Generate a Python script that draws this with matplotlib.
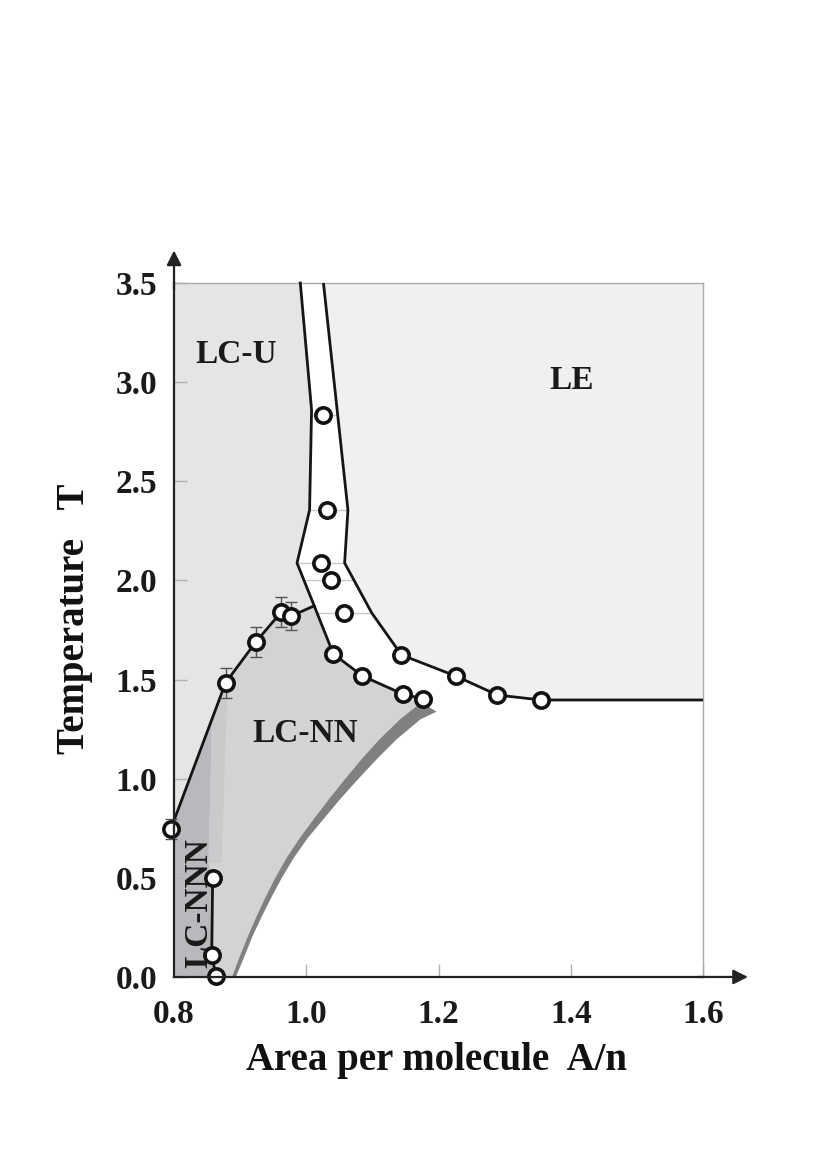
import numpy as np
import matplotlib
matplotlib.use('Agg')
import matplotlib.pyplot as plt
from matplotlib.patches import Polygon

# ---------------- data ----------------
x_ticks = [0.8, 1.0, 1.2, 1.4, 1.6]
x_tick_labels = ['0.8', '1.0', '1.2', '1.4', '1.6']
y_ticks = [0.0, 0.5, 1.0, 1.5, 2.0, 2.5, 3.0, 3.5]
y_tick_labels = ['0.0', '0.5', '1.0', '1.5', '2.0', '2.5', '3.0', '3.5']

# left boundary of the coexistence band (LC-U / LC-NN side)
band_left_A = [0.991, 1.008, 1.005, 0.986, 1.012, 1.041, 1.085, 1.146, 1.177]
band_left_T = [3.5, 2.86, 2.355, 2.088, 1.872, 1.629, 1.518, 1.427, 1.402]
# right boundary of the coexistence band (LE side)
band_right_A = [1.026, 1.063, 1.058, 1.099, 1.144, 1.226, 1.289, 1.355, 1.6]
band_right_T = [3.5, 2.355, 2.088, 1.836, 1.624, 1.518, 1.422, 1.397, 1.397]

# LC-U / LC-NN boundary
lcu_A = [0.795, 0.878, 0.924, 0.962, 0.977, 1.012]
lcu_T = [0.745, 1.484, 1.691, 1.840, 1.820, 1.872]
lcu_err = [0.05, 0.075, 0.075, 0.075, 0.07, 0.0]

# LC-NNN / LC-NN low temperature line
nnn_A = [0.8584, 0.857, 0.8634]
nnn_T = [0.498, 0.111, 0.005]

# data points inside the band
mid_A = [1.025, 1.032, 1.022, 1.038, 1.057]
mid_T = [2.834, 2.355, 2.088, 2.002, 1.836]
# data points on the band boundaries
bl_pts_A = [1.041, 1.085, 1.146, 1.177]
bl_pts_T = [1.629, 1.518, 1.427, 1.402]
br_pts_A = [1.144, 1.226, 1.289, 1.355]
br_pts_T = [1.624, 1.518, 1.422, 1.397]

# dark stripe (edge of LC-NN region)
stripe_left_T = [0.0, 0.1, 0.2, 0.3, 0.4, 0.5, 0.6, 0.7, 0.8, 0.9, 1.0, 1.1, 1.2, 1.3, 1.385]
stripe_left_A = [0.8876, 0.899, 0.911, 0.924, 0.938, 0.953, 0.970, 0.990, 1.012, 1.035,
                 1.059, 1.084, 1.111, 1.142, 1.174]
stripe_right_T = [0.0, 0.1, 0.2, 0.3, 0.4, 0.5, 0.6, 0.7, 0.8, 0.9, 1.0, 1.1, 1.2, 1.3, 1.338]
stripe_right_A = [0.8935, 0.906, 0.918, 0.932, 0.947, 0.963, 0.981, 1.002, 1.027, 1.052,
                  1.079, 1.107, 1.137, 1.173, 1.197]

# light stripe between LC-NNN and LC-NN
light_left_A = [0.852, 0.8575, 0.868]
light_left_T = [0.575, 1.30, 1.40]
light_right_A = [0.872, 0.880]
light_right_T = [0.575, 1.40]

# region labels
labels = ['LC-U', 'LE', 'LC-NN', 'LC-NNN']
label_A = [0.894, 1.402, 0.998, 0.837]
label_T = [3.14, 3.01, 1.23, 0.375]
label_rot = [0, 0, 0, 90]

# colours
c_lcu = '#e4e5e7'
c_le = '#eff0f0'
c_lcnn = '#d2d3d5'
c_lcnnn = '#b8b9bc'
c_light = '#c9cacc'
c_dark = '#808080'

serif = ['Liberation Serif', 'DejaVu Serif']
plt.rcParams['font.family'] = serif

fig = plt.figure(figsize=(8.17, 11.51), dpi=100)
ax = fig.add_axes([0.213, 0.1512, 0.6475, 0.6029])
ax.set_xlim(0.8, 1.6)
ax.set_ylim(0.0, 3.5)
ax.set_facecolor('white')

# ---- regions ----
lcnn_poly = ([(0.79, 0.0), (0.79, lcu_T[0])] + list(zip(lcu_A, lcu_T)) +
             list(zip(bl_pts_A, bl_pts_T)) +
             list(zip(stripe_left_A[::-1], stripe_left_T[::-1])))
ax.add_patch(Polygon(lcnn_poly, closed=True, fc=c_lcnn, ec='none', zorder=1))
lcnnn_poly = ([(0.79, 0.0), (nnn_A[2], 0.0)] + list(zip(nnn_A[::-1], nnn_T[::-1])) +
              list(zip(light_left_A, light_left_T)) +
              [(lcu_A[1], lcu_T[1]), (lcu_A[0], lcu_T[0]), (0.79, lcu_T[0])])
ax.add_patch(Polygon(lcnnn_poly, closed=True, fc=c_lcnnn, ec='none', zorder=1.2))
light_poly = list(zip(light_left_A, light_left_T)) + list(zip(light_right_A[::-1], light_right_T[::-1]))
ax.add_patch(Polygon(light_poly, closed=True, fc=c_light, ec='none', zorder=1.3))
dark_poly = list(zip(stripe_left_A, stripe_left_T)) + list(zip(stripe_right_A[::-1], stripe_right_T[::-1]))
ax.add_patch(Polygon(dark_poly, closed=True, fc=c_dark, ec='none', zorder=1.4))
lcu_poly = ([(0.79, 3.6)] + list(zip(band_left_A[:5], band_left_T[:5])) +
            list(zip(lcu_A[::-1], lcu_T[::-1])) + [(0.79, lcu_T[0])])
ax.add_patch(Polygon(lcu_poly, closed=True, fc=c_lcu, ec='none', zorder=1.5))
le_poly = list(zip(band_right_A, band_right_T)) + [(1.6, 3.6), (band_right_A[0], 3.6)]
ax.add_patch(Polygon(le_poly, closed=True, fc=c_le, ec='none', zorder=1.5))

# tie lines across the band at interior points
tl_left = np.interp(mid_T, band_left_T[::-1], band_left_A[::-1])
tl_right = np.interp(mid_T, band_right_T[:-1][::-1], band_right_A[:-1][::-1])
ax.hlines(mid_T, tl_left, tl_right, colors='#c8c8c8', lw=1.0, zorder=2)

# ---- boundary lines ----
lw = 2.0
ax.plot(band_left_A, band_left_T, color='#151515', lw=lw, zorder=3, clip_on=False)
ax.plot(band_right_A, band_right_T, color='#151515', lw=lw, zorder=3)
ax.plot(lcu_A, lcu_T, color='#151515', lw=lw, zorder=3, clip_on=False)
ax.plot(nnn_A, nnn_T, color='#151515', lw=lw, zorder=3, clip_on=False)

# ---- error bars ----
ax.errorbar(lcu_A[:-1], lcu_T[:-1], yerr=lcu_err[:-1], fmt='none', ecolor='#555555',
            elinewidth=1.0, capsize=4, capthick=1.0, zorder=3.5, clip_on=False)
ax.errorbar(bl_pts_A + br_pts_A, bl_pts_T + br_pts_T, xerr=0.012, fmt='none',
            ecolor='#333333', elinewidth=1.0, capsize=3, capthick=1.0, zorder=3.5)

# ---- markers ----
mk = dict(marker='o', ms=11, mfc='white', mec='#111111', mew=2.6, ls='none', zorder=5, clip_on=False)
ax.plot(mid_A, mid_T, **mk)
ax.plot(bl_pts_A, bl_pts_T, **mk)
ax.plot(br_pts_A, br_pts_T, **mk)
ax.plot(lcu_A[:-1], lcu_T[:-1], **mk)
ax.plot(nnn_A, nnn_T, **mk)

# ---- labels ----
for lab, a, t, r in zip(labels, label_A, label_T, label_rot):
    ax.text(a, t, lab, fontsize=24, fontweight='bold', color='#1a1a1a',
            ha='center', va='center', rotation=r, zorder=6)

# ---- axes styling ----
for s in ['top', 'right']:
    ax.spines[s].set_color('#aaaaaa')
    ax.spines[s].set_linewidth(1.0)
for s in ['left', 'bottom']:
    ax.spines[s].set_color('#222222')
    ax.spines[s].set_linewidth(1.6)
    ax.spines[s].set_zorder(7)

ax.set_xticks(x_ticks)
ax.set_xticklabels(x_tick_labels)
ax.set_yticks(y_ticks)
ax.set_yticklabels(y_tick_labels)
ax.tick_params(direction='in', length=9.5, width=1.0, color='#b0b0b0')
ax.tick_params(axis='x', pad=16)
ax.tick_params(axis='y', pad=12)
for tl in ax.get_xticklabels() + ax.get_yticklabels():
    tl.set_fontsize(24)
    tl.set_fontweight('bold')
    tl.set_color('#1a1a1a')

ax.set_xlabel('Area per molecule  A/n', fontsize=28, fontweight='bold', color='#111111')
ax.set_ylabel('Temperature   T', fontsize=28, fontweight='bold', color='#111111')
ax.xaxis.set_label_coords(0.497, -0.094)
ax.yaxis.set_label_coords(-0.153, 0.516)

# axis arrows
ax.annotate('', xy=(1.085, 0), xytext=(0.99, 0), xycoords='axes fraction',
            arrowprops=dict(arrowstyle='-|>', lw=1.6, color='#222222', mutation_scale=22,
                            shrinkA=0, shrinkB=0))
ax.annotate('', xy=(0, 1.047), xytext=(0, 0.99), xycoords='axes fraction',
            arrowprops=dict(arrowstyle='-|>', lw=1.6, color='#222222', mutation_scale=22,
                            shrinkA=0, shrinkB=0))

fig.savefig('out.png', dpi=100)
